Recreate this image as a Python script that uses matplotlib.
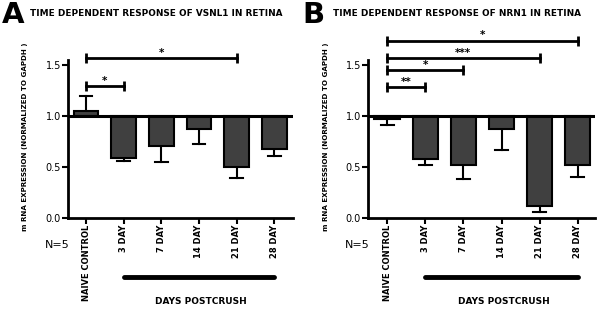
import matplotlib
matplotlib.use("Agg")
import matplotlib.pyplot as plt
import matplotlib.transforms as mtransforms

categories = ["NAIVE CONTROL", "3 DAY", "7 DAY", "14 DAY", "21 DAY", "28 DAY"]

vsnl1_values = [1.05, 0.59, 0.71, 0.87, 0.50, 0.68]
vsnl1_err_end = [1.20, 0.56, 0.55, 0.73, 0.39, 0.61]
vsnl1_sig = [(0, 1, 1.29, "*"), (0, 4, 1.57, "*")]

nrn1_values = [0.97, 0.58, 0.52, 0.87, 0.12, 0.52]
nrn1_err_end = [0.91, 0.52, 0.38, 0.67, 0.06, 0.40]
nrn1_sig = [(0, 1, 1.28, "**"), (0, 2, 1.45, "*"), (0, 4, 1.57, "***"), (0, 5, 1.74, "*")]

titles = ["TIME DEPENDENT RESPONSE OF VSNL1 IN RETINA",
          "TIME DEPENDENT RESPONSE OF NRN1 IN RETINA"]
panel_letters = ["A", "B"]
yticks = [0.0, 0.5, 1.0, 1.5]
ylabel = "m RNA EXPRESSION (NORMALIZED TO GAPDH )"

W, H = 600, 313
fig = plt.figure(figsize=(6, 3.13), dpi=100)

bar_color = "#404040"


def panel(left_px, right_px, xlim, values, err_end, sigs, title, letter, letter_x, title_x, ylabel_x):
    y0_px = 218
    ylim_top = 1.9
    px_per_unit = 102
    height_px = ylim_top * px_per_unit
    ax = fig.add_axes([left_px / W, 1 - y0_px / H, (right_px - left_px) / W, height_px / H])
    ax.set_xlim(*xlim)
    ax.set_ylim(0, ylim_top)
    x = list(range(len(categories)))
    heights = [v - 1.0 for v in values]
    ax.bar(x, heights, bottom=1.0, width=0.66, color=bar_color, edgecolor="black", linewidth=1.5, zorder=3)
    for xi, v, e in zip(x, values, err_end):
        ax.plot([xi, xi], [v, e], color="black", lw=1.5, zorder=2)
        ax.plot([xi - 0.17, xi + 0.17], [e, e], color="black", lw=1.5, zorder=2)
    ax.axhline(1.0, color="black", lw=2.2, zorder=4)
    for (a, b, yv, s) in sigs:
        ax.plot([a, b], [yv, yv], color="black", lw=2, marker="|", markersize=7, mew=2, clip_on=False)
        ax.text((a + b) / 2, yv + 0.05, s, ha="center", va="center", fontsize=7.5, fontweight="bold",
                clip_on=False)
    for sp in ["top", "right"]:
        ax.spines[sp].set_visible(False)
    ax.spines["left"].set_bounds(0, 1.55)
    ax.spines["left"].set_linewidth(2)
    ax.spines["bottom"].set_linewidth(2)
    ax.set_yticks(yticks)
    ax.set_yticklabels([f"{t:.1f}" for t in yticks], fontsize=7)
    ax.set_xticks(x)
    ax.set_xticklabels(categories, rotation=90, fontsize=6, fontweight="bold")
    ax.tick_params(axis="both", width=1.5, length=4, pad=1)
    trans = mtransforms.blended_transform_factory(ax.transData, ax.transAxes)
    ax.plot([1, 5], [-0.305, -0.305], color="black", lw=3.5, solid_capstyle="round",
             transform=trans, clip_on=False)
    ax.text(3.05, -0.43, "DAYS POSTCRUSH", transform=trans, ha="center", va="center",
            fontsize=6.5, fontweight="bold")
    fig.text((left_px - 23) / W, 1 - 245 / H, "N=5", fontsize=8, ha="left", va="center")
    fig.text(ylabel_x / W, 1 - 137 / H, ylabel, rotation=90, fontsize=5.1, fontweight="bold",
             ha="center", va="center")
    fig.text(letter_x / W, 1 - 15 / H, letter, fontsize=21, fontweight="bold", ha="left", va="center")
    fig.text(title_x / W, 1 - 14 / H, title, fontsize=6.4, fontweight="bold", ha="left", va="center")
    return ax


panel(68, 293, (-0.48, 5.5), vsnl1_values, vsnl1_err_end, vsnl1_sig, titles[0], panel_letters[0], 2, 30, 25)
panel(368, 595, (-0.5, 5.45), nrn1_values, nrn1_err_end, nrn1_sig, titles[1], panel_letters[1], 302, 333, 326)

fig.savefig("out.png", dpi=100)
